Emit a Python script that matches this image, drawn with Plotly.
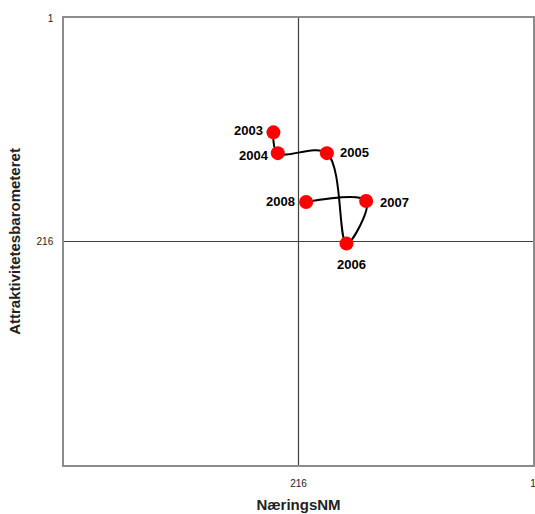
import plotly.graph_objects as go

years = ["2003", "2004", "2005", "2006", "2007", "2008"]
naeringsnm = [239, 235, 190, 172, 154, 209]
attraktivitet = [111, 131, 131, 218, 177, 178]

x_ticks = [216, 1]
y_ticks = [1, 216]
cross_x = 216
cross_y = 216

# label placement (anchor, xshift, yshift) in pixels
label_style = [
    ("right", "middle", -8, 2),
    ("right", "middle", -7, -2),
    ("left", "middle", 11, 1),
    ("center", "middle", 5, -21),
    ("left", "middle", 12, -2),
    ("right", "middle", -9, 1),
]

fig = go.Figure()
fig.add_trace(go.Scatter(
    x=naeringsnm, y=attraktivitet,
    mode="lines+markers",
    line=dict(color="black", width=2, shape="spline", smoothing=1.0),
    marker=dict(color="#ff0000", size=14, line=dict(width=0)),
    cliponaxis=False, showlegend=False, hoverinfo="skip",
))

for yr, xv, yv, (xa, ya, xs, ys) in zip(years, naeringsnm, attraktivitet, label_style):
    fig.add_annotation(x=xv, y=yv, text="<b>%s</b>" % yr, showarrow=False,
                       xanchor=xa, yanchor=ya, xshift=xs, yshift=ys,
                       font=dict(family="Liberation Sans, Arial", size=13, color="black"))

fig.add_shape(type="line", xref="x", yref="paper", x0=cross_x, x1=cross_x, y0=0, y1=1,
              line=dict(color="#404040", width=1.2), layer="below")
fig.add_shape(type="line", xref="paper", yref="y", x0=0, x1=1, y0=cross_y, y1=cross_y,
              line=dict(color="#3a3a7a", width=1.2), layer="below")

fig.update_layout(
    width=535, height=514,
    margin=dict(l=64, r=2, t=18, b=49),
    paper_bgcolor="white", plot_bgcolor="white",
    font=dict(family="Liberation Sans, Arial", size=10, color="#222222"),
    xaxis=dict(range=[431, 1], tickvals=x_ticks, ticktext=[str(v) for v in x_ticks],
               showgrid=False, zeroline=False, showline=True, mirror=True,
               linecolor="#8c8c8c", linewidth=1.5, ticks="", ticklabelstandoff=8,
               ticklabeloverflow="allow",
               title=dict(text="<b>NæringsNM</b>", font=dict(size=15, color="#222222"), standoff=12),
               automargin=False),
    yaxis=dict(range=[431, 1], tickvals=y_ticks, ticktext=[str(v) for v in y_ticks],
               showgrid=False, zeroline=False, showline=True, mirror=True,
               linecolor="#8c8c8c", linewidth=1.5, ticks="", ticklabelstandoff=7,
               ticklabeloverflow="allow",
               title=dict(text="<b>Attraktivitetesbarometeret</b>", font=dict(size=15, color="#222222"), standoff=12),
               automargin=False),
)

fig.write_html("out.html", config={"displayModeBar": False},
               post_script="document.body.style.margin='0';document.body.style.overflow='hidden';")
